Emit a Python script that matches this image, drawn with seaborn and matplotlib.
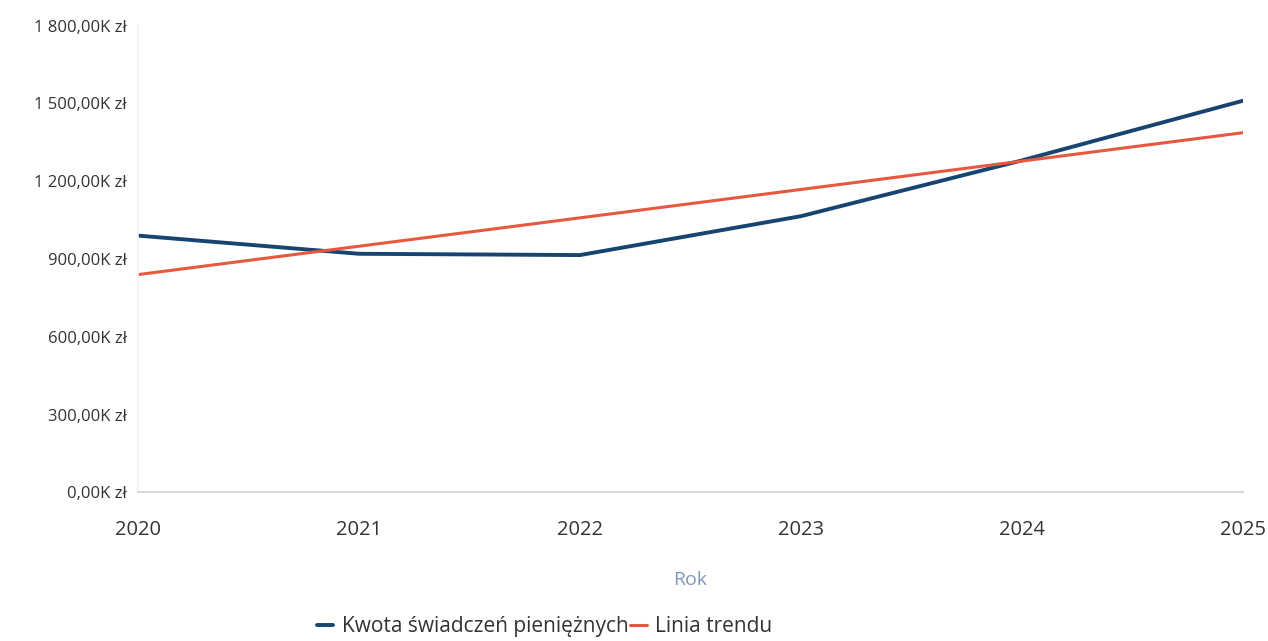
import matplotlib.pyplot as plt
import numpy as np
import pandas as pd
import seaborn as sns
from matplotlib.ticker import FuncFormatter

# values in thousands of zł
years = [2020, 2021, 2022, 2023, 2024, 2025]
amounts = [990, 920, 915, 1065, 1280, 1510]
y_ticks = [0, 300, 600, 900, 1200, 1500, 1800]

series_label = "Kwota świadczeń pieniężnych"
trend_label = "Linia trendu"
blue = "#17456f"
red = "#e8573f"

df = pd.DataFrame({"Rok": years, "Kwota": amounts})

sns.set_theme(style="white")
plt.rcParams["font.family"] = ["Open Sans", "DejaVu Sans"]

fig = plt.figure(figsize=(12.68, 6.41), dpi=100)
ax = fig.add_axes([0.109, 0.232, 0.871, 0.728])

sns.lineplot(data=df, x="Rok", y="Kwota", color=blue, linewidth=2.8,
             label=series_label, ax=ax)
sns.regplot(data=df, x="Rok", y="Kwota", scatter=False, ci=None, color=red,
            line_kws={"linewidth": 2.2}, label=trend_label, ax=ax)


def fmt(v, pos):
    s = f"{v:,.2f}".replace(",", " ").replace(".", ",")
    return f"{s}K zł"


ax.set_xlim(2020, 2025)
ax.set_ylim(0, 1800)
ax.set_yticks(y_ticks)
ax.yaxis.set_major_formatter(FuncFormatter(fmt))
ax.set_xticks(years)
ax.set_xticklabels([str(y) for y in years])
ax.tick_params(axis="both", length=0, colors="#333333")
ax.tick_params(axis="y", pad=8, labelsize=12)
ax.tick_params(axis="x", pad=20, labelsize=14.5)

ax.set_xlabel("Rok", fontsize=14, color="#7f97b8", labelpad=22)
ax.set_ylabel("")

for side in ["top", "right"]:
    ax.spines[side].set_visible(False)
ax.spines["bottom"].set_color("#cfd3d8")
ax.spines["left"].set_color("#eef3f9")

ax.legend(loc="upper center", bbox_to_anchor=(0.368, -0.225), ncol=2, frameon=False,
          fontsize=15, handlelength=0.8, handletextpad=0.4, columnspacing=0.1,
          labelcolor="#333333")

fig.savefig("out.png", dpi=100, facecolor="white")
